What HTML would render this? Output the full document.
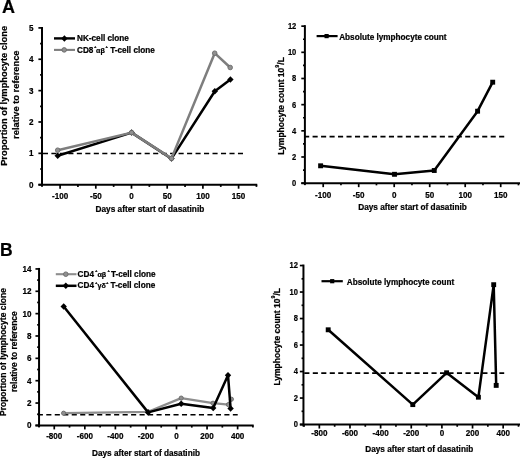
<!DOCTYPE html>
<html><head><meta charset="utf-8"><style>
html,body{margin:0;padding:0;background:#fff;}
svg{display:block;}
text{font-family:"Liberation Sans", sans-serif;stroke:#000;stroke-width:0.22px;}
</style></head><body>
<svg width="520" height="458" viewBox="0 0 520 458">
<defs><filter id="bl" x="0" y="0" width="1" height="1"><feGaussianBlur stdDeviation="0.4"/></filter></defs>
<rect width="520" height="458" fill="#fff"/>
<g filter="url(#bl)"><rect width="520" height="458" fill="#fff"/>
<line x1="42.00" y1="26.90" x2="42.00" y2="186.70" stroke="#000" stroke-width="2.0" />
<line x1="38.40" y1="184.70" x2="42.00" y2="184.70" stroke="#000" stroke-width="1.7" />
<text transform="translate(33.60,187.70) scale(0.9,1)" font-size="9.0" text-anchor="end" font-weight="bold" fill="#000" >0</text>
<line x1="38.40" y1="153.34" x2="42.00" y2="153.34" stroke="#000" stroke-width="1.7" />
<text transform="translate(33.60,156.34) scale(0.9,1)" font-size="9.0" text-anchor="end" font-weight="bold" fill="#000" >1</text>
<line x1="38.40" y1="121.98" x2="42.00" y2="121.98" stroke="#000" stroke-width="1.7" />
<text transform="translate(33.60,124.98) scale(0.9,1)" font-size="9.0" text-anchor="end" font-weight="bold" fill="#000" >2</text>
<line x1="38.40" y1="90.62" x2="42.00" y2="90.62" stroke="#000" stroke-width="1.7" />
<text transform="translate(33.60,93.62) scale(0.9,1)" font-size="9.0" text-anchor="end" font-weight="bold" fill="#000" >3</text>
<line x1="38.40" y1="59.26" x2="42.00" y2="59.26" stroke="#000" stroke-width="1.7" />
<text transform="translate(33.60,62.26) scale(0.9,1)" font-size="9.0" text-anchor="end" font-weight="bold" fill="#000" >4</text>
<line x1="38.40" y1="27.90" x2="42.00" y2="27.90" stroke="#000" stroke-width="1.7" />
<text transform="translate(33.60,30.90) scale(0.9,1)" font-size="9.0" text-anchor="end" font-weight="bold" fill="#000" >5</text>
<line x1="40.10" y1="169.02" x2="42.00" y2="169.02" stroke="#000" stroke-width="1.7" />
<line x1="40.10" y1="137.66" x2="42.00" y2="137.66" stroke="#000" stroke-width="1.7" />
<line x1="40.10" y1="106.30" x2="42.00" y2="106.30" stroke="#000" stroke-width="1.7" />
<line x1="40.10" y1="74.94" x2="42.00" y2="74.94" stroke="#000" stroke-width="1.7" />
<line x1="40.10" y1="43.58" x2="42.00" y2="43.58" stroke="#000" stroke-width="1.7" />
<line x1="38.40" y1="184.70" x2="257.25" y2="184.70" stroke="#000" stroke-width="2.0" />
<line x1="60.10" y1="184.70" x2="60.10" y2="188.70" stroke="#000" stroke-width="1.7" />
<text transform="translate(60.10,198.50) scale(0.9,1)" font-size="9.0" text-anchor="middle" font-weight="bold" fill="#000" >-100</text>
<line x1="95.80" y1="184.70" x2="95.80" y2="188.70" stroke="#000" stroke-width="1.7" />
<text transform="translate(95.80,198.50) scale(0.9,1)" font-size="9.0" text-anchor="middle" font-weight="bold" fill="#000" >-50</text>
<line x1="131.50" y1="184.70" x2="131.50" y2="188.70" stroke="#000" stroke-width="1.7" />
<text transform="translate(131.50,198.50) scale(0.9,1)" font-size="9.0" text-anchor="middle" font-weight="bold" fill="#000" >0</text>
<line x1="167.20" y1="184.70" x2="167.20" y2="188.70" stroke="#000" stroke-width="1.7" />
<text transform="translate(167.20,198.50) scale(0.9,1)" font-size="9.0" text-anchor="middle" font-weight="bold" fill="#000" >50</text>
<line x1="202.90" y1="184.70" x2="202.90" y2="188.70" stroke="#000" stroke-width="1.7" />
<text transform="translate(202.90,198.50) scale(0.9,1)" font-size="9.0" text-anchor="middle" font-weight="bold" fill="#000" >100</text>
<line x1="238.60" y1="184.70" x2="238.60" y2="188.70" stroke="#000" stroke-width="1.7" />
<text transform="translate(238.60,198.50) scale(0.9,1)" font-size="9.0" text-anchor="middle" font-weight="bold" fill="#000" >150</text>
<line x1="77.95" y1="184.70" x2="77.95" y2="186.90" stroke="#000" stroke-width="1.7" />
<line x1="113.65" y1="184.70" x2="113.65" y2="186.90" stroke="#000" stroke-width="1.7" />
<line x1="149.35" y1="184.70" x2="149.35" y2="186.90" stroke="#000" stroke-width="1.7" />
<line x1="185.05" y1="184.70" x2="185.05" y2="186.90" stroke="#000" stroke-width="1.7" />
<line x1="220.75" y1="184.70" x2="220.75" y2="186.90" stroke="#000" stroke-width="1.7" />
<line x1="256.45" y1="184.70" x2="256.45" y2="186.90" stroke="#000" stroke-width="1.7" />
<line x1="42.90" y1="153.50" x2="243.00" y2="153.50" stroke="#000" stroke-width="1.6" stroke-dasharray="5.1 3.38" stroke-dashoffset="0"/>
<polyline points="57.70,155.70 131.60,132.60 171.50,158.60 214.80,91.30 230.40,79.50" fill="none" stroke="#000" stroke-width="2.5" stroke-linejoin="round"/>
<path d="M57.70,152.45L60.90,155.70L57.70,158.95L54.50,155.70Z" fill="#000"/>
<path d="M131.60,129.35L134.80,132.60L131.60,135.85L128.40,132.60Z" fill="#000"/>
<path d="M171.50,155.35L174.70,158.60L171.50,161.85L168.30,158.60Z" fill="#000"/>
<path d="M214.80,88.05L218.00,91.30L214.80,94.55L211.60,91.30Z" fill="#000"/>
<path d="M230.40,76.25L233.60,79.50L230.40,82.75L227.20,79.50Z" fill="#000"/>
<polyline points="57.70,150.20 131.60,132.60 171.50,158.40 214.70,53.20 230.20,67.50" fill="none" stroke="#7e7e7e" stroke-width="2.5" stroke-linejoin="round"/>
<circle cx="57.70" cy="150.20" r="2.3" fill="#909090" stroke="#6a6a6a" stroke-width="0.9"/>
<circle cx="131.60" cy="132.60" r="2.3" fill="#909090" stroke="#6a6a6a" stroke-width="0.9"/>
<circle cx="171.50" cy="158.40" r="2.3" fill="#909090" stroke="#6a6a6a" stroke-width="0.9"/>
<circle cx="214.70" cy="53.20" r="2.3" fill="#909090" stroke="#6a6a6a" stroke-width="0.9"/>
<circle cx="230.20" cy="67.50" r="2.3" fill="#909090" stroke="#6a6a6a" stroke-width="0.9"/>
<line x1="54.00" y1="38.40" x2="75.00" y2="38.40" stroke="#000" stroke-width="2.4" />
<path d="M64.40,35.15L67.60,38.40L64.40,41.65L61.20,38.40Z" fill="#000"/>
<line x1="54.00" y1="49.90" x2="75.00" y2="49.90" stroke="#7e7e7e" stroke-width="2.1" />
<circle cx="64.20" cy="49.90" r="2.3" fill="#909090" stroke="#6a6a6a" stroke-width="0.9"/>
<text x="77.00" y="40.60" font-size="8.2" text-anchor="start" font-weight="bold" fill="#000" >NK-cell clone</text>
<text x="77.00" y="52.50" font-size="8.2" text-anchor="start" font-weight="bold" fill="#000" >CD8</text>
<text x="93.90" y="48.40" font-size="4.2" text-anchor="start" font-weight="bold" fill="#000" >+</text>
<text x="96.00" y="52.50" font-size="7.2" text-anchor="start" font-weight="bold" fill="#000" >αβ</text>
<text x="105.50" y="48.40" font-size="4.2" text-anchor="start" font-weight="bold" fill="#000" >+</text>
<text x="110.20" y="52.50" font-size="8.2" text-anchor="start" font-weight="bold" fill="#000" >T-cell clone</text>
<text x="149.90" y="211.60" font-size="8.25" text-anchor="middle" font-weight="bold" fill="#000" >Days after start of dasatinib</text>
<text transform="translate(7.00,95.85) rotate(-90) scale(1.0,1)" font-size="9.3" text-anchor="middle" font-weight="bold">Proportion of lymphocyte clone</text>
<text transform="translate(18.80,94.70) rotate(-90) scale(1.0,1)" font-size="9.3" text-anchor="middle" font-weight="bold">relative to reference</text>
<text x="1.90" y="12.50" font-size="18" text-anchor="start" font-weight="bold" fill="#000" >A</text>
<line x1="304.90" y1="25.15" x2="304.90" y2="185.15" stroke="#000" stroke-width="2.0" />
<line x1="301.30" y1="183.15" x2="304.90" y2="183.15" stroke="#000" stroke-width="1.7" />
<text transform="translate(296.30,186.15) scale(0.84,1)" font-size="9.0" text-anchor="end" font-weight="bold" fill="#000" >0</text>
<line x1="301.30" y1="156.98" x2="304.90" y2="156.98" stroke="#000" stroke-width="1.7" />
<text transform="translate(296.30,159.98) scale(0.84,1)" font-size="9.0" text-anchor="end" font-weight="bold" fill="#000" >2</text>
<line x1="301.30" y1="130.82" x2="304.90" y2="130.82" stroke="#000" stroke-width="1.7" />
<text transform="translate(296.30,133.82) scale(0.84,1)" font-size="9.0" text-anchor="end" font-weight="bold" fill="#000" >4</text>
<line x1="301.30" y1="104.65" x2="304.90" y2="104.65" stroke="#000" stroke-width="1.7" />
<text transform="translate(296.30,107.65) scale(0.84,1)" font-size="9.0" text-anchor="end" font-weight="bold" fill="#000" >6</text>
<line x1="301.30" y1="78.49" x2="304.90" y2="78.49" stroke="#000" stroke-width="1.7" />
<text transform="translate(296.30,81.49) scale(0.84,1)" font-size="9.0" text-anchor="end" font-weight="bold" fill="#000" >8</text>
<line x1="301.30" y1="52.32" x2="304.90" y2="52.32" stroke="#000" stroke-width="1.7" />
<text transform="translate(296.30,55.32) scale(0.84,1)" font-size="9.0" text-anchor="end" font-weight="bold" fill="#000" >10</text>
<line x1="301.30" y1="26.15" x2="304.90" y2="26.15" stroke="#000" stroke-width="1.7" />
<text transform="translate(296.30,29.15) scale(0.84,1)" font-size="9.0" text-anchor="end" font-weight="bold" fill="#000" >12</text>
<line x1="303.00" y1="170.07" x2="304.90" y2="170.07" stroke="#000" stroke-width="1.7" />
<line x1="303.00" y1="143.90" x2="304.90" y2="143.90" stroke="#000" stroke-width="1.7" />
<line x1="303.00" y1="117.73" x2="304.90" y2="117.73" stroke="#000" stroke-width="1.7" />
<line x1="303.00" y1="91.57" x2="304.90" y2="91.57" stroke="#000" stroke-width="1.7" />
<line x1="303.00" y1="65.40" x2="304.90" y2="65.40" stroke="#000" stroke-width="1.7" />
<line x1="303.00" y1="39.24" x2="304.90" y2="39.24" stroke="#000" stroke-width="1.7" />
<line x1="301.30" y1="183.15" x2="520.00" y2="183.15" stroke="#000" stroke-width="2.0" />
<line x1="323.20" y1="183.15" x2="323.20" y2="187.15" stroke="#000" stroke-width="1.7" />
<text transform="translate(323.20,197.95) scale(0.9,1)" font-size="9.0" text-anchor="middle" font-weight="bold" fill="#000" >-100</text>
<line x1="358.70" y1="183.15" x2="358.70" y2="187.15" stroke="#000" stroke-width="1.7" />
<text transform="translate(358.70,197.95) scale(0.9,1)" font-size="9.0" text-anchor="middle" font-weight="bold" fill="#000" >-50</text>
<line x1="394.20" y1="183.15" x2="394.20" y2="187.15" stroke="#000" stroke-width="1.7" />
<text transform="translate(394.20,197.95) scale(0.9,1)" font-size="9.0" text-anchor="middle" font-weight="bold" fill="#000" >0</text>
<line x1="429.70" y1="183.15" x2="429.70" y2="187.15" stroke="#000" stroke-width="1.7" />
<text transform="translate(429.70,197.95) scale(0.9,1)" font-size="9.0" text-anchor="middle" font-weight="bold" fill="#000" >50</text>
<line x1="465.20" y1="183.15" x2="465.20" y2="187.15" stroke="#000" stroke-width="1.7" />
<text transform="translate(465.20,197.95) scale(0.9,1)" font-size="9.0" text-anchor="middle" font-weight="bold" fill="#000" >100</text>
<line x1="500.70" y1="183.15" x2="500.70" y2="187.15" stroke="#000" stroke-width="1.7" />
<text transform="translate(500.70,197.95) scale(0.9,1)" font-size="9.0" text-anchor="middle" font-weight="bold" fill="#000" >150</text>
<line x1="340.95" y1="183.15" x2="340.95" y2="185.35" stroke="#000" stroke-width="1.7" />
<line x1="376.45" y1="183.15" x2="376.45" y2="185.35" stroke="#000" stroke-width="1.7" />
<line x1="411.95" y1="183.15" x2="411.95" y2="185.35" stroke="#000" stroke-width="1.7" />
<line x1="447.45" y1="183.15" x2="447.45" y2="185.35" stroke="#000" stroke-width="1.7" />
<line x1="482.95" y1="183.15" x2="482.95" y2="185.35" stroke="#000" stroke-width="1.7" />
<line x1="518.45" y1="183.15" x2="518.45" y2="185.35" stroke="#000" stroke-width="1.7" />
<line x1="304.10" y1="136.60" x2="504.30" y2="136.60" stroke="#000" stroke-width="1.6" stroke-dasharray="5.1 3.38" stroke-dashoffset="0"/>
<polyline points="320.60,165.80 394.50,174.30 434.25,170.50 477.60,111.20 492.70,82.20" fill="none" stroke="#000" stroke-width="2.5" stroke-linejoin="round"/>
<rect x="318.15" y="163.35" width="4.9" height="4.9" fill="#000"/>
<rect x="392.05" y="171.85" width="4.9" height="4.9" fill="#000"/>
<rect x="431.80" y="168.05" width="4.9" height="4.9" fill="#000"/>
<rect x="475.15" y="108.75" width="4.9" height="4.9" fill="#000"/>
<rect x="490.25" y="79.75" width="4.9" height="4.9" fill="#000"/>
<line x1="316.60" y1="36.10" x2="337.60" y2="36.10" stroke="#000" stroke-width="2.2" />
<rect x="324.50" y="34.00" width="4.2" height="4.2" fill="#000"/>
<text x="339.20" y="39.80" font-size="8.2" text-anchor="start" font-weight="bold" fill="#000" >Absolute lymphocyte count</text>
<text x="412.50" y="209.80" font-size="8.25" text-anchor="middle" font-weight="bold" fill="#000" >Days after start of dasatinib</text>
<text transform="translate(283.50,105.95) rotate(-90) scale(1.0,1)" font-size="8.5" text-anchor="middle" font-weight="bold">Lymphocyte count 10<tspan font-size="5.4" dy="-4.3">9</tspan><tspan dy="4.3">/L</tspan></text>
<line x1="39.05" y1="267.94" x2="39.05" y2="427.40" stroke="#000" stroke-width="2.0" />
<line x1="35.45" y1="425.40" x2="39.05" y2="425.40" stroke="#000" stroke-width="1.7" />
<text transform="translate(31.60,428.40) scale(0.9,1)" font-size="9.0" text-anchor="end" font-weight="bold" fill="#000" >0</text>
<line x1="35.45" y1="403.05" x2="39.05" y2="403.05" stroke="#000" stroke-width="1.7" />
<text transform="translate(31.60,406.05) scale(0.9,1)" font-size="9.0" text-anchor="end" font-weight="bold" fill="#000" >2</text>
<line x1="35.45" y1="380.70" x2="39.05" y2="380.70" stroke="#000" stroke-width="1.7" />
<text transform="translate(31.60,383.70) scale(0.9,1)" font-size="9.0" text-anchor="end" font-weight="bold" fill="#000" >4</text>
<line x1="35.45" y1="358.34" x2="39.05" y2="358.34" stroke="#000" stroke-width="1.7" />
<text transform="translate(31.60,361.34) scale(0.9,1)" font-size="9.0" text-anchor="end" font-weight="bold" fill="#000" >6</text>
<line x1="35.45" y1="335.99" x2="39.05" y2="335.99" stroke="#000" stroke-width="1.7" />
<text transform="translate(31.60,338.99) scale(0.9,1)" font-size="9.0" text-anchor="end" font-weight="bold" fill="#000" >8</text>
<line x1="35.45" y1="313.64" x2="39.05" y2="313.64" stroke="#000" stroke-width="1.7" />
<text transform="translate(31.60,316.64) scale(0.9,1)" font-size="9.0" text-anchor="end" font-weight="bold" fill="#000" >10</text>
<line x1="35.45" y1="291.29" x2="39.05" y2="291.29" stroke="#000" stroke-width="1.7" />
<text transform="translate(31.60,294.29) scale(0.9,1)" font-size="9.0" text-anchor="end" font-weight="bold" fill="#000" >12</text>
<line x1="35.45" y1="268.94" x2="39.05" y2="268.94" stroke="#000" stroke-width="1.7" />
<text transform="translate(31.60,271.94) scale(0.9,1)" font-size="9.0" text-anchor="end" font-weight="bold" fill="#000" >14</text>
<line x1="37.15" y1="414.22" x2="39.05" y2="414.22" stroke="#000" stroke-width="1.7" />
<line x1="37.15" y1="391.87" x2="39.05" y2="391.87" stroke="#000" stroke-width="1.7" />
<line x1="37.15" y1="369.52" x2="39.05" y2="369.52" stroke="#000" stroke-width="1.7" />
<line x1="37.15" y1="347.17" x2="39.05" y2="347.17" stroke="#000" stroke-width="1.7" />
<line x1="37.15" y1="324.82" x2="39.05" y2="324.82" stroke="#000" stroke-width="1.7" />
<line x1="37.15" y1="302.46" x2="39.05" y2="302.46" stroke="#000" stroke-width="1.7" />
<line x1="37.15" y1="280.11" x2="39.05" y2="280.11" stroke="#000" stroke-width="1.7" />
<line x1="35.45" y1="425.40" x2="253.70" y2="425.40" stroke="#000" stroke-width="2.0" />
<line x1="54.26" y1="425.40" x2="54.26" y2="429.40" stroke="#000" stroke-width="1.7" />
<text transform="translate(54.26,439.00) scale(0.9,1)" font-size="9.0" text-anchor="middle" font-weight="bold" fill="#000" >-800</text>
<line x1="84.82" y1="425.40" x2="84.82" y2="429.40" stroke="#000" stroke-width="1.7" />
<text transform="translate(84.82,439.00) scale(0.9,1)" font-size="9.0" text-anchor="middle" font-weight="bold" fill="#000" >-600</text>
<line x1="115.38" y1="425.40" x2="115.38" y2="429.40" stroke="#000" stroke-width="1.7" />
<text transform="translate(115.38,439.00) scale(0.9,1)" font-size="9.0" text-anchor="middle" font-weight="bold" fill="#000" >-400</text>
<line x1="145.94" y1="425.40" x2="145.94" y2="429.40" stroke="#000" stroke-width="1.7" />
<text transform="translate(145.94,439.00) scale(0.9,1)" font-size="9.0" text-anchor="middle" font-weight="bold" fill="#000" >-200</text>
<line x1="176.50" y1="425.40" x2="176.50" y2="429.40" stroke="#000" stroke-width="1.7" />
<text transform="translate(176.50,439.00) scale(0.9,1)" font-size="9.0" text-anchor="middle" font-weight="bold" fill="#000" >0</text>
<line x1="207.06" y1="425.40" x2="207.06" y2="429.40" stroke="#000" stroke-width="1.7" />
<text transform="translate(207.06,439.00) scale(0.9,1)" font-size="9.0" text-anchor="middle" font-weight="bold" fill="#000" >200</text>
<line x1="237.62" y1="425.40" x2="237.62" y2="429.40" stroke="#000" stroke-width="1.7" />
<text transform="translate(237.62,439.00) scale(0.9,1)" font-size="9.0" text-anchor="middle" font-weight="bold" fill="#000" >400</text>
<line x1="69.54" y1="425.40" x2="69.54" y2="427.60" stroke="#000" stroke-width="1.7" />
<line x1="100.10" y1="425.40" x2="100.10" y2="427.60" stroke="#000" stroke-width="1.7" />
<line x1="130.66" y1="425.40" x2="130.66" y2="427.60" stroke="#000" stroke-width="1.7" />
<line x1="161.22" y1="425.40" x2="161.22" y2="427.60" stroke="#000" stroke-width="1.7" />
<line x1="191.78" y1="425.40" x2="191.78" y2="427.60" stroke="#000" stroke-width="1.7" />
<line x1="222.34" y1="425.40" x2="222.34" y2="427.60" stroke="#000" stroke-width="1.7" />
<line x1="252.90" y1="425.40" x2="252.90" y2="427.60" stroke="#000" stroke-width="1.7" />
<line x1="37.80" y1="414.70" x2="237.70" y2="414.70" stroke="#000" stroke-width="1.6" stroke-dasharray="5.1 3.38" stroke-dashoffset="0"/>
<polyline points="63.60,413.20 148.10,411.80 181.20,398.10 213.00,403.20 228.40,404.60 231.40,399.20" fill="none" stroke="#8e8e8e" stroke-width="2.3" stroke-linejoin="round"/>
<circle cx="63.60" cy="413.20" r="2.1" fill="#909090" stroke="#6a6a6a" stroke-width="0.9"/>
<circle cx="148.10" cy="411.80" r="2.1" fill="#909090" stroke="#6a6a6a" stroke-width="0.9"/>
<circle cx="181.20" cy="398.10" r="2.1" fill="#909090" stroke="#6a6a6a" stroke-width="0.9"/>
<circle cx="213.00" cy="403.20" r="2.1" fill="#909090" stroke="#6a6a6a" stroke-width="0.9"/>
<circle cx="228.40" cy="404.60" r="2.1" fill="#909090" stroke="#6a6a6a" stroke-width="0.9"/>
<circle cx="231.40" cy="399.20" r="2.1" fill="#909090" stroke="#6a6a6a" stroke-width="0.9"/>
<polyline points="63.70,306.50 148.10,412.40 181.20,403.80 213.20,408.00 228.00,375.20 230.60,408.40" fill="none" stroke="#000" stroke-width="2.5" stroke-linejoin="round"/>
<path d="M63.70,303.25L66.90,306.50L63.70,309.75L60.50,306.50Z" fill="#000"/>
<path d="M148.10,409.15L151.30,412.40L148.10,415.65L144.90,412.40Z" fill="#000"/>
<path d="M181.20,400.55L184.40,403.80L181.20,407.05L178.00,403.80Z" fill="#000"/>
<path d="M213.20,404.75L216.40,408.00L213.20,411.25L210.00,408.00Z" fill="#000"/>
<path d="M228.00,371.95L231.20,375.20L228.00,378.45L224.80,375.20Z" fill="#000"/>
<path d="M230.60,405.15L233.80,408.40L230.60,411.65L227.40,408.40Z" fill="#000"/>
<line x1="55.80" y1="274.20" x2="76.50" y2="274.20" stroke="#8e8e8e" stroke-width="2.1" />
<circle cx="65.80" cy="274.20" r="2.3" fill="#909090" stroke="#6a6a6a" stroke-width="0.9"/>
<line x1="55.80" y1="285.80" x2="76.50" y2="285.80" stroke="#000" stroke-width="2.5" />
<path d="M65.80,282.55L69.00,285.80L65.80,289.05L62.60,285.80Z" fill="#000"/>
<text x="77.60" y="276.50" font-size="8.2" text-anchor="start" font-weight="bold" fill="#000" >CD4</text>
<text x="94.90" y="272.40" font-size="4.2" text-anchor="start" font-weight="bold" fill="#000" >+</text>
<text x="97.40" y="276.50" font-size="7.2" text-anchor="start" font-weight="bold" fill="#000" >αβ</text>
<text x="107.40" y="272.40" font-size="4.2" text-anchor="start" font-weight="bold" fill="#000" >+</text>
<text x="110.90" y="276.50" font-size="8.2" text-anchor="start" font-weight="bold" fill="#000" >T-cell clone</text>
<text x="77.60" y="288.10" font-size="8.2" text-anchor="start" font-weight="bold" fill="#000" >CD4</text>
<text x="94.90" y="284.00" font-size="4.2" text-anchor="start" font-weight="bold" fill="#000" >+</text>
<text x="97.60" y="288.10" font-size="7.2" text-anchor="start" font-weight="bold" fill="#000" >γδ</text>
<text x="105.90" y="284.00" font-size="4.2" text-anchor="start" font-weight="bold" fill="#000" >+</text>
<text x="110.60" y="288.10" font-size="8.2" text-anchor="start" font-weight="bold" fill="#000" >T-cell clone</text>
<text x="146.00" y="455.75" font-size="8.2" text-anchor="middle" font-weight="bold" fill="#000" >Days after start of dasatinib</text>
<text transform="translate(6.10,352.05) rotate(-90) scale(1.0,1)" font-size="8.5" text-anchor="middle" font-weight="bold">Proportion of lymphocyte clone</text>
<text transform="translate(16.80,351.60) rotate(-90) scale(1.0,1)" font-size="8.5" text-anchor="middle" font-weight="bold">relative to reference</text>
<text x="0.10" y="255.50" font-size="17.5" text-anchor="start" font-weight="bold" fill="#000" >B</text>
<line x1="303.45" y1="264.55" x2="303.45" y2="426.55" stroke="#000" stroke-width="2.0" />
<line x1="299.85" y1="424.55" x2="303.45" y2="424.55" stroke="#000" stroke-width="1.7" />
<text transform="translate(297.90,427.15) scale(0.84,1)" font-size="9.0" text-anchor="end" font-weight="bold" fill="#000" >0</text>
<line x1="299.85" y1="398.05" x2="303.45" y2="398.05" stroke="#000" stroke-width="1.7" />
<text transform="translate(297.90,400.65) scale(0.84,1)" font-size="9.0" text-anchor="end" font-weight="bold" fill="#000" >2</text>
<line x1="299.85" y1="371.55" x2="303.45" y2="371.55" stroke="#000" stroke-width="1.7" />
<text transform="translate(297.90,374.15) scale(0.84,1)" font-size="9.0" text-anchor="end" font-weight="bold" fill="#000" >4</text>
<line x1="299.85" y1="345.05" x2="303.45" y2="345.05" stroke="#000" stroke-width="1.7" />
<text transform="translate(297.90,347.65) scale(0.84,1)" font-size="9.0" text-anchor="end" font-weight="bold" fill="#000" >6</text>
<line x1="299.85" y1="318.55" x2="303.45" y2="318.55" stroke="#000" stroke-width="1.7" />
<text transform="translate(297.90,321.15) scale(0.84,1)" font-size="9.0" text-anchor="end" font-weight="bold" fill="#000" >8</text>
<line x1="299.85" y1="292.05" x2="303.45" y2="292.05" stroke="#000" stroke-width="1.7" />
<text transform="translate(297.90,294.65) scale(0.84,1)" font-size="9.0" text-anchor="end" font-weight="bold" fill="#000" >10</text>
<line x1="299.85" y1="265.55" x2="303.45" y2="265.55" stroke="#000" stroke-width="1.7" />
<text transform="translate(297.90,268.15) scale(0.84,1)" font-size="9.0" text-anchor="end" font-weight="bold" fill="#000" >12</text>
<line x1="301.55" y1="411.30" x2="303.45" y2="411.30" stroke="#000" stroke-width="1.7" />
<line x1="301.55" y1="384.80" x2="303.45" y2="384.80" stroke="#000" stroke-width="1.7" />
<line x1="301.55" y1="358.30" x2="303.45" y2="358.30" stroke="#000" stroke-width="1.7" />
<line x1="301.55" y1="331.80" x2="303.45" y2="331.80" stroke="#000" stroke-width="1.7" />
<line x1="301.55" y1="305.30" x2="303.45" y2="305.30" stroke="#000" stroke-width="1.7" />
<line x1="301.55" y1="278.80" x2="303.45" y2="278.80" stroke="#000" stroke-width="1.7" />
<line x1="299.85" y1="424.55" x2="520.00" y2="424.55" stroke="#000" stroke-width="2.0" />
<line x1="319.34" y1="424.55" x2="319.34" y2="428.55" stroke="#000" stroke-width="1.7" />
<text transform="translate(319.34,436.25) scale(0.9,1)" font-size="9.0" text-anchor="middle" font-weight="bold" fill="#000" >-800</text>
<line x1="349.98" y1="424.55" x2="349.98" y2="428.55" stroke="#000" stroke-width="1.7" />
<text transform="translate(349.98,436.25) scale(0.9,1)" font-size="9.0" text-anchor="middle" font-weight="bold" fill="#000" >-600</text>
<line x1="380.62" y1="424.55" x2="380.62" y2="428.55" stroke="#000" stroke-width="1.7" />
<text transform="translate(380.62,436.25) scale(0.9,1)" font-size="9.0" text-anchor="middle" font-weight="bold" fill="#000" >-400</text>
<line x1="411.26" y1="424.55" x2="411.26" y2="428.55" stroke="#000" stroke-width="1.7" />
<text transform="translate(411.26,436.25) scale(0.9,1)" font-size="9.0" text-anchor="middle" font-weight="bold" fill="#000" >-200</text>
<line x1="441.90" y1="424.55" x2="441.90" y2="428.55" stroke="#000" stroke-width="1.7" />
<text transform="translate(441.90,436.25) scale(0.9,1)" font-size="9.0" text-anchor="middle" font-weight="bold" fill="#000" >0</text>
<line x1="472.54" y1="424.55" x2="472.54" y2="428.55" stroke="#000" stroke-width="1.7" />
<text transform="translate(472.54,436.25) scale(0.9,1)" font-size="9.0" text-anchor="middle" font-weight="bold" fill="#000" >200</text>
<line x1="503.18" y1="424.55" x2="503.18" y2="428.55" stroke="#000" stroke-width="1.7" />
<text transform="translate(503.18,436.25) scale(0.9,1)" font-size="9.0" text-anchor="middle" font-weight="bold" fill="#000" >400</text>
<line x1="304.02" y1="424.55" x2="304.02" y2="426.75" stroke="#000" stroke-width="1.7" />
<line x1="334.66" y1="424.55" x2="334.66" y2="426.75" stroke="#000" stroke-width="1.7" />
<line x1="365.30" y1="424.55" x2="365.30" y2="426.75" stroke="#000" stroke-width="1.7" />
<line x1="395.94" y1="424.55" x2="395.94" y2="426.75" stroke="#000" stroke-width="1.7" />
<line x1="426.58" y1="424.55" x2="426.58" y2="426.75" stroke="#000" stroke-width="1.7" />
<line x1="457.22" y1="424.55" x2="457.22" y2="426.75" stroke="#000" stroke-width="1.7" />
<line x1="487.86" y1="424.55" x2="487.86" y2="426.75" stroke="#000" stroke-width="1.7" />
<line x1="518.50" y1="424.55" x2="518.50" y2="426.75" stroke="#000" stroke-width="1.7" />
<line x1="304.30" y1="373.10" x2="504.20" y2="373.10" stroke="#000" stroke-width="1.6" stroke-dasharray="5.1 3.38" stroke-dashoffset="0"/>
<polyline points="328.20,329.80 412.80,404.60 446.60,372.80 478.40,397.20 493.70,284.70 496.20,385.40" fill="none" stroke="#000" stroke-width="2.5" stroke-linejoin="round"/>
<rect x="325.75" y="327.35" width="4.9" height="4.9" fill="#000"/>
<rect x="410.35" y="402.15" width="4.9" height="4.9" fill="#000"/>
<rect x="444.15" y="370.35" width="4.9" height="4.9" fill="#000"/>
<rect x="475.95" y="394.75" width="4.9" height="4.9" fill="#000"/>
<rect x="491.25" y="282.25" width="4.9" height="4.9" fill="#000"/>
<rect x="493.75" y="382.95" width="4.9" height="4.9" fill="#000"/>
<line x1="321.50" y1="281.20" x2="342.80" y2="281.20" stroke="#000" stroke-width="2.2" />
<rect x="330.10" y="279.10" width="4.2" height="4.2" fill="#000"/>
<text x="346.80" y="284.60" font-size="8.2" text-anchor="start" font-weight="bold" fill="#000" >Absolute lymphocyte count</text>
<text x="419.25" y="451.75" font-size="8.2" text-anchor="middle" font-weight="bold" fill="#000" >Days after start of dasatinib</text>
<text transform="translate(279.70,336.80) rotate(-90) scale(1.0,1)" font-size="8.5" text-anchor="middle" font-weight="bold">Lymphocyte count 10<tspan font-size="5.4" dy="-4.3">9</tspan><tspan dy="4.3">/L</tspan></text>
</g>
</svg>
</body></html>
